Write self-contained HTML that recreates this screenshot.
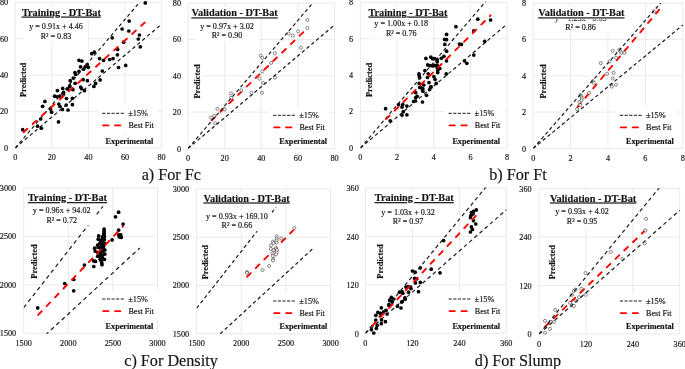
<!DOCTYPE html>
<html><head><meta charset="utf-8"><title>Predicted vs Experimental scatter plots</title>
<style>html,body{margin:0;padding:0;background:#fff}svg{display:block;will-change:transform}text{font-family:"Liberation Serif", serif;fill:#141414;stroke:#141414;stroke-width:0.16px}.b{font-weight:bold}</style></head>
<body>
<svg width="685" height="369" viewBox="0 0 685 369">
<rect width="685" height="369" fill="#fff"/>
<g>
<path d="M15.2 2.3V148M15.2 148H161.6M51.8 2.3V148M15.2 111.58H161.6M88.4 2.3V148M15.2 75.15H161.6M125 2.3V148M15.2 38.73H161.6M161.6 2.3V148M15.2 2.3H161.6" stroke="#e1e1e1" stroke-width="0.7" fill="none"/>
<text x="15.2" y="159.9" font-size="8.2" text-anchor="middle">0</text>
<text x="8.1" y="150.9" font-size="8.2" text-anchor="end">0</text>
<text x="51.8" y="159.9" font-size="8.2" text-anchor="middle">20</text>
<text x="8.1" y="114.48" font-size="8.2" text-anchor="end">20</text>
<text x="88.4" y="159.9" font-size="8.2" text-anchor="middle">40</text>
<text x="8.1" y="78.05" font-size="8.2" text-anchor="end">40</text>
<text x="125" y="159.9" font-size="8.2" text-anchor="middle">60</text>
<text x="8.1" y="41.63" font-size="8.2" text-anchor="end">60</text>
<text x="161.6" y="159.9" font-size="8.2" text-anchor="middle">80</text>
<text x="8.1" y="5.2" font-size="8.2" text-anchor="end">80</text>
<clipPath id="c1"><rect x="15.2" y="1.9" width="146.8" height="146.5"/></clipPath>
<g fill="#000"><circle cx="44.9" cy="101.4" r="1.85"/><circle cx="42.6" cy="106.3" r="1.85"/><circle cx="40.7" cy="119" r="1.85"/><circle cx="51.6" cy="112.2" r="1.85"/><circle cx="50.5" cy="109.1" r="1.85"/><circle cx="58.5" cy="121.9" r="1.85"/><circle cx="57.4" cy="90.6" r="1.85"/><circle cx="54.6" cy="96.2" r="1.85"/><circle cx="57.2" cy="96.8" r="1.85"/><circle cx="59.8" cy="96.2" r="1.85"/><circle cx="63.4" cy="94.2" r="1.85"/><circle cx="62.7" cy="88.4" r="1.85"/><circle cx="58.8" cy="104" r="1.85"/><circle cx="60" cy="106.5" r="1.85"/><circle cx="62.4" cy="109.4" r="1.85"/><circle cx="66.5" cy="98.5" r="1.85"/><circle cx="66.2" cy="105.1" r="1.85"/><circle cx="68" cy="110" r="1.85"/><circle cx="72.4" cy="98.3" r="1.85"/><circle cx="72.4" cy="104.7" r="1.85"/><circle cx="22.7" cy="129.7" r="1.85"/><circle cx="37.5" cy="126.2" r="1.85"/><circle cx="41.3" cy="128.2" r="1.85"/><circle cx="79" cy="60.3" r="1.85"/><circle cx="81.9" cy="61.1" r="1.85"/><circle cx="87.2" cy="64.5" r="1.85"/><circle cx="80.5" cy="66.8" r="1.85"/><circle cx="85.2" cy="66.8" r="1.85"/><circle cx="88.3" cy="67.3" r="1.85"/><circle cx="83.6" cy="69.2" r="1.85"/><circle cx="79" cy="71.4" r="1.85"/><circle cx="74.9" cy="72.5" r="1.85"/><circle cx="75.7" cy="74.5" r="1.85"/><circle cx="73.3" cy="78.1" r="1.85"/><circle cx="70.2" cy="80.7" r="1.85"/><circle cx="75.1" cy="83.3" r="1.85"/><circle cx="83.1" cy="79.7" r="1.85"/><circle cx="87.4" cy="80.7" r="1.85"/><circle cx="69.7" cy="85.9" r="1.85"/><circle cx="67.7" cy="89.1" r="1.85"/><circle cx="69.8" cy="86.6" r="1.85"/><circle cx="72.9" cy="89.7" r="1.85"/><circle cx="80.6" cy="87" r="1.85"/><circle cx="81.6" cy="88.7" r="1.85"/><circle cx="84.5" cy="90.7" r="1.85"/><circle cx="93.9" cy="86.4" r="1.85"/><circle cx="95.6" cy="83.4" r="1.85"/><circle cx="100.1" cy="79.9" r="1.85"/><circle cx="102.3" cy="71" r="1.85"/><circle cx="99.6" cy="58.6" r="1.85"/><circle cx="103.5" cy="60.3" r="1.85"/><circle cx="109.7" cy="59.5" r="1.85"/><circle cx="113.1" cy="58.6" r="1.85"/><circle cx="63.5" cy="92.3" r="1.85"/><circle cx="122.1" cy="29" r="1.85"/><circle cx="128.8" cy="31" r="1.85"/><circle cx="112.2" cy="37.8" r="1.85"/><circle cx="139.4" cy="35" r="1.85"/><circle cx="138.3" cy="39" r="1.85"/><circle cx="140.3" cy="46.8" r="1.85"/><circle cx="123.6" cy="42.2" r="1.85"/><circle cx="117.6" cy="49.4" r="1.85"/><circle cx="117.4" cy="54.8" r="1.85"/><circle cx="94.3" cy="52.2" r="1.85"/><circle cx="91.7" cy="53.7" r="1.85"/><circle cx="125.7" cy="65.4" r="1.85"/><circle cx="145.3" cy="2.9" r="1.85"/><circle cx="129.2" cy="21.1" r="1.85"/><circle cx="118.5" cy="67.5" r="1.85"/></g>
<g clip-path="url(#c1)" stroke="#1a1a1a" stroke-width="1.2" stroke-dasharray="3.6 2.8" fill="none"><path d="M15.2 148L161.6 -23.41"/><path d="M15.2 148L161.6 24.16"/></g>
<path d="M23.62 132.25L144.76 22.52" stroke="#f00" stroke-width="1.9" stroke-dasharray="5.1 7.1" stroke-linecap="round" fill="none"/>
<rect x="24.28" y="21.4" width="63.43" height="20" fill="#fff"/>
<rect x="20.4" y="6" width="82" height="13.2" fill="#fff"/>
<text x="56" y="29.2" font-size="8.1" text-anchor="middle">y = 0.91x + 4.46</text>
<text x="56" y="38.7" font-size="8.1" text-anchor="middle">R² = 0.83</text>
<rect x="16.2" y="60.9" width="12.4" height="38" fill="#fff"/>
<rect x="98.2" y="105.3" width="60" height="28" fill="#fff"/>
<rect x="103.6" y="135.5" width="52" height="11" fill="#fff"/>
<text class="b" x="61.4" y="15.6" font-size="10.3" text-anchor="middle" text-decoration="underline">Training - DT-Bat</text>
<text class="b" transform="translate(26.2 79.9) rotate(-90)" font-size="8.4" text-anchor="middle">Predicted</text>
<path d="M102.2 113.3h21.7" stroke="#1a1a1a" stroke-width="1" stroke-dasharray="3.2 1.43" fill="none"/>
<text x="128.2" y="116.2" font-size="8.3">±15%</text>
<path d="M103.1 125.4h5.4M115 125.4h5.4" stroke="#f00" stroke-width="1.8" stroke-linecap="round" fill="none"/>
<text x="128.4" y="128.1" font-size="8.1">Best Fit</text>
<text class="b" x="105.6" y="143.7" font-size="8.2">Experimental</text>
</g>
<g>
<path d="M188.1 3.3V148.4M188.1 148.4H334.5M224.7 3.3V148.4M188.1 112.12H334.5M261.3 3.3V148.4M188.1 75.85H334.5M297.9 3.3V148.4M188.1 39.58H334.5M334.5 3.3V148.4M188.1 3.3H334.5" stroke="#e1e1e1" stroke-width="0.7" fill="none"/>
<text x="188.1" y="160.9" font-size="8.2" text-anchor="middle">0</text>
<text x="181" y="151.6" font-size="8.2" text-anchor="end">0</text>
<text x="224.7" y="160.9" font-size="8.2" text-anchor="middle">20</text>
<text x="181" y="115.2" font-size="8.2" text-anchor="end">20</text>
<text x="261.3" y="160.9" font-size="8.2" text-anchor="middle">40</text>
<text x="181" y="78.8" font-size="8.2" text-anchor="end">40</text>
<text x="297.9" y="160.9" font-size="8.2" text-anchor="middle">60</text>
<text x="181" y="42.4" font-size="8.2" text-anchor="end">60</text>
<text x="334.5" y="160.9" font-size="8.2" text-anchor="middle">80</text>
<text x="181" y="6" font-size="8.2" text-anchor="end">80</text>
<clipPath id="c2"><rect x="188.1" y="2.9" width="146.8" height="145.9"/></clipPath>
<path d="M211.71 120.23L303.39 32.08" stroke="#f00" stroke-width="1.9" stroke-dasharray="5.1 7.1" stroke-linecap="round" fill="none"/>
<g fill="#fff" fill-opacity="0.9" stroke="#2a2a2a" stroke-width="0.55"><circle cx="210.9" cy="117.6" r="1.55"/><circle cx="214.2" cy="115.9" r="1.55"/><circle cx="215.3" cy="123.2" r="1.55"/><circle cx="217.4" cy="109" r="1.55"/><circle cx="224.7" cy="109.4" r="1.55"/><circle cx="231" cy="93.5" r="1.55"/><circle cx="231" cy="97.9" r="1.55"/><circle cx="241.3" cy="90.3" r="1.55"/><circle cx="251.5" cy="92.7" r="1.55"/><circle cx="262" cy="92.7" r="1.55"/><circle cx="263" cy="83" r="1.55"/><circle cx="259.5" cy="78.7" r="1.55"/><circle cx="262.2" cy="71.5" r="1.55"/><circle cx="274.9" cy="77.6" r="1.55"/><circle cx="307.4" cy="20.1" r="1.55"/><circle cx="307.4" cy="27.9" r="1.55"/><circle cx="298.1" cy="31.4" r="1.55"/><circle cx="292.8" cy="35.5" r="1.55"/><circle cx="288.7" cy="33.5" r="1.55"/><circle cx="300.9" cy="47.7" r="1.55"/><circle cx="274.9" cy="53.3" r="1.55"/><circle cx="260.7" cy="55.7" r="1.55"/><circle cx="262.3" cy="58" r="1.55"/><circle cx="271.1" cy="62.9" r="1.55"/></g>
<g clip-path="url(#c2)" stroke="#1a1a1a" stroke-width="1.2" stroke-dasharray="3.5 2.7" fill="none"><path d="M188.1 148.4L334.5 -22.31"/><path d="M188.1 148.4L334.5 25.07"/></g>
<rect x="195.28" y="21" width="63.43" height="20" fill="#fff"/>
<rect x="190.7" y="6.8" width="88" height="13.2" fill="#fff"/>
<text x="227" y="28.8" font-size="8.1" text-anchor="middle">y = 0.97x + 3.02</text>
<text x="227" y="38.2" font-size="8.1" text-anchor="middle">R² = 0.90</text>
<rect x="189.5" y="62.4" width="12.4" height="38" fill="#fff"/>
<rect x="269.2" y="107.3" width="60" height="28" fill="#fff"/>
<rect x="277.3" y="135.5" width="52" height="11" fill="#fff"/>
<text class="b" x="234.7" y="16.4" font-size="10.3" text-anchor="middle" text-decoration="underline">Validation - DT-Bat</text>
<text class="b" transform="translate(199.5 81.4) rotate(-90)" font-size="8.4" text-anchor="middle">Predicted</text>
<path d="M273.2 115.3h21.7" stroke="#1a1a1a" stroke-width="1" stroke-dasharray="3.2 1.43" fill="none"/>
<text x="299.2" y="118.2" font-size="8.3">±15%</text>
<path d="M274.1 127.4h5.4M286 127.4h5.4" stroke="#f00" stroke-width="1.8" stroke-linecap="round" fill="none"/>
<text x="299.4" y="130.1" font-size="8.1">Best Fit</text>
<text class="b" x="279.3" y="143.7" font-size="8.2">Experimental</text>
</g>
<g>
<path d="M360.4 2.2V148M360.4 148H507.1M397.07 2.2V148M360.4 111.55H507.1M433.75 2.2V148M360.4 75.1H507.1M470.43 2.2V148M360.4 38.65H507.1M507.1 2.2V148M360.4 2.2H507.1" stroke="#e1e1e1" stroke-width="0.7" fill="none"/>
<text x="360.4" y="159.9" font-size="8.2" text-anchor="middle">0</text>
<text x="353.2" y="150.9" font-size="8.2" text-anchor="end">0</text>
<text x="397.07" y="159.9" font-size="8.2" text-anchor="middle">2</text>
<text x="353.2" y="114.45" font-size="8.2" text-anchor="end">2</text>
<text x="433.75" y="159.9" font-size="8.2" text-anchor="middle">4</text>
<text x="353.2" y="78" font-size="8.2" text-anchor="end">4</text>
<text x="470.43" y="159.9" font-size="8.2" text-anchor="middle">6</text>
<text x="353.2" y="41.55" font-size="8.2" text-anchor="end">6</text>
<text x="507.1" y="159.9" font-size="8.2" text-anchor="middle">8</text>
<text x="353.2" y="5.1" font-size="8.2" text-anchor="end">8</text>
<clipPath id="c3"><rect x="360.4" y="1.8" width="147.1" height="146.6"/></clipPath>
<g fill="#000"><circle cx="385.6" cy="108.7" r="1.85"/><circle cx="390.2" cy="120.8" r="1.85"/><circle cx="398.5" cy="104.6" r="1.85"/><circle cx="402.8" cy="104.6" r="1.85"/><circle cx="402" cy="107.1" r="1.85"/><circle cx="406.9" cy="106.1" r="1.85"/><circle cx="403.3" cy="111.7" r="1.85"/><circle cx="402" cy="115.1" r="1.85"/><circle cx="406.9" cy="114.8" r="1.85"/><circle cx="413.6" cy="101.5" r="1.85"/><circle cx="415.5" cy="100.9" r="1.85"/><circle cx="415.7" cy="97.6" r="1.85"/><circle cx="417.2" cy="96.3" r="1.85"/><circle cx="415.7" cy="92.7" r="1.85"/><circle cx="422.5" cy="102" r="1.85"/><circle cx="426.5" cy="95.3" r="1.85"/><circle cx="422.4" cy="89.6" r="1.85"/><circle cx="422.9" cy="91.2" r="1.85"/><circle cx="420.3" cy="87.3" r="1.85"/><circle cx="429.6" cy="89.6" r="1.85"/><circle cx="431.1" cy="86.9" r="1.85"/><circle cx="425.9" cy="58.4" r="1.85"/><circle cx="430.8" cy="57.1" r="1.85"/><circle cx="432.6" cy="58.7" r="1.85"/><circle cx="434.6" cy="58.7" r="1.85"/><circle cx="437.2" cy="59.7" r="1.85"/><circle cx="437.2" cy="61.8" r="1.85"/><circle cx="441.3" cy="58.3" r="1.85"/><circle cx="443.9" cy="56.3" r="1.85"/><circle cx="446.5" cy="60.8" r="1.85"/><circle cx="427.7" cy="64.9" r="1.85"/><circle cx="430" cy="65.6" r="1.85"/><circle cx="432.6" cy="65.9" r="1.85"/><circle cx="434.6" cy="65.4" r="1.85"/><circle cx="437.2" cy="65.4" r="1.85"/><circle cx="437.2" cy="67.4" r="1.85"/><circle cx="439.8" cy="68.5" r="1.85"/><circle cx="437.7" cy="70.5" r="1.85"/><circle cx="437.7" cy="72.6" r="1.85"/><circle cx="424.9" cy="70.5" r="1.85"/><circle cx="419" cy="73.8" r="1.85"/><circle cx="419.2" cy="75.9" r="1.85"/><circle cx="419.7" cy="77.7" r="1.85"/><circle cx="428.2" cy="73.8" r="1.85"/><circle cx="427.4" cy="77.5" r="1.85"/><circle cx="433.9" cy="76.7" r="1.85"/><circle cx="435" cy="79.3" r="1.85"/><circle cx="436.2" cy="83.4" r="1.85"/><circle cx="446.2" cy="73.9" r="1.85"/><circle cx="429" cy="82.6" r="1.85"/><circle cx="419.2" cy="83.4" r="1.85"/><circle cx="423.8" cy="85" r="1.85"/><circle cx="419.7" cy="87.5" r="1.85"/><circle cx="422.8" cy="88.6" r="1.85"/><circle cx="430.5" cy="87" r="1.85"/><circle cx="464.4" cy="60.8" r="1.85"/><circle cx="455.9" cy="26.7" r="1.85"/><circle cx="446.6" cy="34.4" r="1.85"/><circle cx="444.6" cy="39.4" r="1.85"/><circle cx="446.6" cy="39.7" r="1.85"/><circle cx="444.8" cy="44.4" r="1.85"/><circle cx="446.6" cy="51.2" r="1.85"/><circle cx="459.5" cy="44.1" r="1.85"/><circle cx="461.4" cy="44.4" r="1.85"/><circle cx="473.8" cy="30.8" r="1.85"/><circle cx="477.8" cy="19.2" r="1.85"/><circle cx="490.6" cy="20" r="1.85"/><circle cx="484.7" cy="41.3" r="1.85"/><circle cx="473.8" cy="55.1" r="1.85"/><circle cx="466.8" cy="63.3" r="1.85"/></g>
<g clip-path="url(#c3)" stroke="#1a1a1a" stroke-width="1.2" stroke-dasharray="3.6 2.8" fill="none"><path d="M360.4 148L507.1 -23.53"/><path d="M360.4 148L507.1 24.07"/></g>
<path d="M386.07 119.2L490.6 15.32" stroke="#f00" stroke-width="1.9" stroke-dasharray="5.1 7.1" stroke-linecap="round" fill="none"/>
<rect x="369.48" y="18.5" width="63.43" height="20" fill="#fff"/>
<rect x="366.9" y="6" width="82" height="13.2" fill="#fff"/>
<text x="401.2" y="26.3" font-size="8.1" text-anchor="middle">y = 1.00x + 0.18</text>
<text x="401.2" y="35.5" font-size="8.1" text-anchor="middle">R² = 0.76</text>
<rect x="362.4" y="60.9" width="12.4" height="38" fill="#fff"/>
<rect x="444.6" y="105.3" width="60" height="28" fill="#fff"/>
<rect x="450.4" y="135.5" width="52" height="11" fill="#fff"/>
<text class="b" x="407.9" y="15.6" font-size="10.3" text-anchor="middle" text-decoration="underline">Training - DT-Bat</text>
<text class="b" transform="translate(372.4 79.9) rotate(-90)" font-size="8.4" text-anchor="middle">Predicted</text>
<path d="M448.6 113.3h21.7" stroke="#1a1a1a" stroke-width="1" stroke-dasharray="3.2 1.43" fill="none"/>
<text x="474.6" y="116.2" font-size="8.3">±15%</text>
<path d="M449.5 125.4h5.4M461.4 125.4h5.4" stroke="#f00" stroke-width="1.8" stroke-linecap="round" fill="none"/>
<text x="474.8" y="128.1" font-size="8.1">Best Fit</text>
<text class="b" x="452.4" y="143.7" font-size="8.2">Experimental</text>
</g>
<g>
<path d="M533.2 3.3V148.4M533.2 148.4H682.8M570.6 3.3V148.4M533.2 112.12H682.8M608 3.3V148.4M533.2 75.85H682.8M645.4 3.3V148.4M533.2 39.58H682.8M682.8 3.3V148.4M533.2 3.3H682.8" stroke="#e1e1e1" stroke-width="0.7" fill="none"/>
<text x="533.2" y="160.9" font-size="8.2" text-anchor="middle">0</text>
<text x="526.2" y="151.8" font-size="8.2" text-anchor="end">0</text>
<text x="570.6" y="160.9" font-size="8.2" text-anchor="middle">2</text>
<text x="526.2" y="115.35" font-size="8.2" text-anchor="end">2</text>
<text x="608" y="160.9" font-size="8.2" text-anchor="middle">4</text>
<text x="526.2" y="78.9" font-size="8.2" text-anchor="end">4</text>
<text x="645.4" y="160.9" font-size="8.2" text-anchor="middle">6</text>
<text x="526.2" y="42.45" font-size="8.2" text-anchor="end">6</text>
<text x="682.8" y="160.9" font-size="8.2" text-anchor="middle">8</text>
<text x="526.2" y="6" font-size="8.2" text-anchor="end">8</text>
<clipPath id="c4"><rect x="533.2" y="2.9" width="150" height="145.9"/></clipPath>
<path d="M577.52 107.05L659.24 9.65" stroke="#f00" stroke-width="1.9" stroke-dasharray="5.1 7.1" stroke-linecap="round" fill="none"/>
<g fill="#fff" fill-opacity="0.9" stroke="#2a2a2a" stroke-width="0.55"><circle cx="600.8" cy="63.1" r="1.55"/><circle cx="609.6" cy="61.5" r="1.55"/><circle cx="607" cy="73.7" r="1.55"/><circle cx="613.6" cy="72.9" r="1.55"/><circle cx="612.7" cy="78.5" r="1.55"/><circle cx="611.3" cy="85" r="1.55"/><circle cx="611.9" cy="86.6" r="1.55"/><circle cx="616" cy="84.7" r="1.55"/><circle cx="592.8" cy="81.1" r="1.55"/><circle cx="593.8" cy="82.9" r="1.55"/><circle cx="589.1" cy="92.9" r="1.55"/><circle cx="580.4" cy="95" r="1.55"/><circle cx="581.5" cy="96.6" r="1.55"/><circle cx="581.8" cy="98.2" r="1.55"/><circle cx="581.6" cy="100.4" r="1.55"/><circle cx="579.5" cy="102" r="1.55"/><circle cx="580.2" cy="105.1" r="1.55"/><circle cx="577.1" cy="109.2" r="1.55"/><circle cx="612.7" cy="50.8" r="1.55"/><circle cx="619.3" cy="49.8" r="1.55"/><circle cx="620.5" cy="51.3" r="1.55"/><circle cx="621.5" cy="52.9" r="1.55"/><circle cx="624.4" cy="52.9" r="1.55"/><circle cx="616.1" cy="57.8" r="1.55"/><circle cx="653.9" cy="11.4" r="1.55"/></g>
<g clip-path="url(#c4)" stroke="#1a1a1a" stroke-width="1.2" stroke-dasharray="3.5 2.7" fill="none"><path d="M533.2 148.4L682.8 -22.31"/><path d="M533.2 148.4L682.8 25.07"/></g>
<text x="580.6" y="20.75" font-size="8.1" text-anchor="middle">y = 1.23x - 0.63</text>
<rect x="537.4" y="6.8" width="88" height="12.65" fill="#fff"/>
<rect x="549.6" y="22.6" width="62" height="9.6" fill="#fff"/>
<text x="580.6" y="29.6" font-size="8.1" text-anchor="middle">R² = 0.86</text>
<rect x="536.2" y="62.4" width="12.4" height="38" fill="#fff"/>
<rect x="615.9" y="107.3" width="60" height="28" fill="#fff"/>
<rect x="624" y="135.5" width="52" height="11" fill="#fff"/>
<text class="b" x="581.4" y="16.4" font-size="10.3" text-anchor="middle" text-decoration="underline">Validation - DT-Bat</text>
<text class="b" transform="translate(546.2 81.4) rotate(-90)" font-size="8.4" text-anchor="middle">Predicted</text>
<path d="M619.9 115.3h21.7" stroke="#1a1a1a" stroke-width="1" stroke-dasharray="3.2 1.43" fill="none"/>
<text x="645.9" y="118.2" font-size="8.3">±15%</text>
<path d="M620.8 127.4h5.4M632.7 127.4h5.4" stroke="#f00" stroke-width="1.8" stroke-linecap="round" fill="none"/>
<text x="646.1" y="130.1" font-size="8.1">Best Fit</text>
<text class="b" x="626" y="143.7" font-size="8.2">Experimental</text>
</g>
<g>
<path d="M23.7 188V333.3M23.7 333.3H157.5M68.3 188V333.3M23.7 284.87H157.5M112.9 188V333.3M23.7 236.43H157.5M157.5 188V333.3M23.7 188H157.5" stroke="#e1e1e1" stroke-width="0.7" fill="none"/>
<text x="23.7" y="345.8" font-size="8.2" text-anchor="middle">1500</text>
<text x="16.2" y="336.2" font-size="8.2" text-anchor="end">1500</text>
<text x="68.3" y="345.8" font-size="8.2" text-anchor="middle">2000</text>
<text x="16.2" y="287.77" font-size="8.2" text-anchor="end">2000</text>
<text x="112.9" y="345.8" font-size="8.2" text-anchor="middle">2500</text>
<text x="16.2" y="239.33" font-size="8.2" text-anchor="end">2500</text>
<text x="157.5" y="345.8" font-size="8.2" text-anchor="middle">3000</text>
<text x="16.2" y="190.9" font-size="8.2" text-anchor="end">3000</text>
<clipPath id="c5"><rect x="23.7" y="187.6" width="134.2" height="146.1"/></clipPath>
<g fill="#000"><circle cx="118.6" cy="212.2" r="1.85"/><circle cx="115.5" cy="216.8" r="1.85"/><circle cx="123.1" cy="224.1" r="1.85"/><circle cx="118.6" cy="230.2" r="1.85"/><circle cx="118.8" cy="234.9" r="1.85"/><circle cx="120.8" cy="234.9" r="1.85"/><circle cx="119.3" cy="236.9" r="1.85"/><circle cx="121.3" cy="237.4" r="1.85"/><circle cx="112.1" cy="239.9" r="1.85"/><circle cx="104.1" cy="229.2" r="1.85"/><circle cx="104.1" cy="231.3" r="1.85"/><circle cx="104.1" cy="233.3" r="1.85"/><circle cx="104.1" cy="235.4" r="1.85"/><circle cx="102.8" cy="236.4" r="1.85"/><circle cx="98.7" cy="235.9" r="1.85"/><circle cx="98.2" cy="239.2" r="1.85"/><circle cx="103.8" cy="234.1" r="1.85"/><circle cx="104.4" cy="236.6" r="1.85"/><circle cx="102.3" cy="238.2" r="1.85"/><circle cx="104.4" cy="239.7" r="1.85"/><circle cx="100.7" cy="240.8" r="1.85"/><circle cx="102.8" cy="241.8" r="1.85"/><circle cx="99.7" cy="243.3" r="1.85"/><circle cx="104.4" cy="243.3" r="1.85"/><circle cx="97.7" cy="245.2" r="1.85"/><circle cx="101.8" cy="244.9" r="1.85"/><circle cx="103.8" cy="245.9" r="1.85"/><circle cx="94.6" cy="248.2" r="1.85"/><circle cx="98.2" cy="247.4" r="1.85"/><circle cx="100.7" cy="247.4" r="1.85"/><circle cx="103.3" cy="248.5" r="1.85"/><circle cx="104.9" cy="250" r="1.85"/><circle cx="95.1" cy="251.1" r="1.85"/><circle cx="100.7" cy="250.5" r="1.85"/><circle cx="102.8" cy="251.6" r="1.85"/><circle cx="97.7" cy="252.6" r="1.85"/><circle cx="100.2" cy="253.6" r="1.85"/><circle cx="104.9" cy="254.1" r="1.85"/><circle cx="102.3" cy="255.2" r="1.85"/><circle cx="97.7" cy="256.2" r="1.85"/><circle cx="100.2" cy="256.7" r="1.85"/><circle cx="102.3" cy="257.7" r="1.85"/><circle cx="104.4" cy="259.3" r="1.85"/><circle cx="100.2" cy="259.3" r="1.85"/><circle cx="101.3" cy="261.4" r="1.85"/><circle cx="101.8" cy="262.9" r="1.85"/><circle cx="102" cy="264.7" r="1.85"/><circle cx="93.5" cy="260.8" r="1.85"/><circle cx="95.4" cy="261.4" r="1.85"/><circle cx="93.8" cy="266.5" r="1.85"/><circle cx="84.4" cy="265" r="1.85"/><circle cx="64.7" cy="283.6" r="1.85"/><circle cx="73.7" cy="279.5" r="1.85"/><circle cx="73.7" cy="290.8" r="1.85"/><circle cx="37.7" cy="307.9" r="1.85"/></g>
<g clip-path="url(#c5)" stroke="#1a1a1a" stroke-width="1.2" stroke-dasharray="4 3.4" fill="none"><path d="M23.7 307.66L102.91 206.46"/><path d="M23.7 355.1L139.66 248.06"/></g>
<path d="M38.15 314.94L122.89 226.6" stroke="#f00" stroke-width="1.9" stroke-dasharray="5.1 7.1" stroke-linecap="round" fill="none"/>
<rect x="28.28" y="205.4" width="66.83" height="20" fill="#fff"/>
<rect x="26.5" y="191.5" width="82" height="13.2" fill="#fff"/>
<text x="61.7" y="213.2" font-size="8.1" text-anchor="middle">y = 0.96x + 94.02</text>
<text x="61.7" y="222.5" font-size="8.1" text-anchor="middle">R² = 0.72</text>
<rect x="26.8" y="242.5" width="12.4" height="38" fill="#fff"/>
<rect x="98.2" y="291" width="60" height="28" fill="#fff"/>
<rect x="103.6" y="320.9" width="52" height="11" fill="#fff"/>
<text class="b" x="67.5" y="201.1" font-size="10.3" text-anchor="middle" text-decoration="underline">Training - DT-Bat</text>
<text class="b" transform="translate(36.8 261.5) rotate(-90)" font-size="8.4" text-anchor="middle">Predicted</text>
<path d="M102.2 299h21.7" stroke="#1a1a1a" stroke-width="1" stroke-dasharray="3.2 1.43" fill="none"/>
<text x="128.2" y="301.9" font-size="8.3">±15%</text>
<path d="M103.1 311.1h5.4M115 311.1h5.4" stroke="#f00" stroke-width="1.8" stroke-linecap="round" fill="none"/>
<text x="128.4" y="313.8" font-size="8.1">Best Fit</text>
<text class="b" x="105.6" y="329.1" font-size="8.2">Experimental</text>
</g>
<g>
<path d="M196.6 188.8V333.8M196.6 333.8H330.6M241.27 188.8V333.8M196.6 285.47H330.6M285.93 188.8V333.8M196.6 237.13H330.6M330.6 188.8V333.8M196.6 188.8H330.6" stroke="#e1e1e1" stroke-width="0.7" fill="none"/>
<text x="196.6" y="346.3" font-size="8.2" text-anchor="middle">1500</text>
<text x="189.1" y="336.7" font-size="8.2" text-anchor="end">1500</text>
<text x="241.27" y="346.3" font-size="8.2" text-anchor="middle">2000</text>
<text x="189.1" y="288.37" font-size="8.2" text-anchor="end">2000</text>
<text x="285.93" y="346.3" font-size="8.2" text-anchor="middle">2500</text>
<text x="189.1" y="240.03" font-size="8.2" text-anchor="end">2500</text>
<text x="330.6" y="346.3" font-size="8.2" text-anchor="middle">3000</text>
<text x="189.1" y="191.7" font-size="8.2" text-anchor="end">3000</text>
<clipPath id="c6"><rect x="196.6" y="188.4" width="134.4" height="145.8"/></clipPath>
<path d="M247.16 276.72L293.44 230.15" stroke="#f00" stroke-width="1.9" stroke-dasharray="5.1 7.1" stroke-linecap="round" fill="none"/>
<g fill="#fff" fill-opacity="0.9" stroke="#2a2a2a" stroke-width="0.55"><circle cx="294.3" cy="228" r="1.55"/><circle cx="281.2" cy="238.5" r="1.55"/><circle cx="276.8" cy="236.4" r="1.55"/><circle cx="276.8" cy="238.5" r="1.55"/><circle cx="276.6" cy="240.5" r="1.55"/><circle cx="273" cy="241.6" r="1.55"/><circle cx="276.6" cy="242.6" r="1.55"/><circle cx="273.5" cy="243.1" r="1.55"/><circle cx="270.9" cy="245.5" r="1.55"/><circle cx="270.9" cy="249" r="1.55"/><circle cx="276" cy="248.3" r="1.55"/><circle cx="276.9" cy="250" r="1.55"/><circle cx="273.5" cy="250.3" r="1.55"/><circle cx="276.6" cy="252.4" r="1.55"/><circle cx="272.4" cy="253.4" r="1.55"/><circle cx="276" cy="254.4" r="1.55"/><circle cx="273" cy="256" r="1.55"/><circle cx="273" cy="259.3" r="1.55"/><circle cx="273" cy="260.5" r="1.55"/><circle cx="247" cy="272.1" r="1.55"/><circle cx="247" cy="272.9" r="1.55"/><circle cx="262.6" cy="270.1" r="1.55"/><circle cx="269.1" cy="266" r="1.55"/></g>
<g clip-path="url(#c6)" stroke="#1a1a1a" stroke-width="1.2" stroke-dasharray="3.6 2.8" fill="none"><path d="M196.6 308.21L275.93 207.22"/><path d="M196.6 355.55L312.73 248.73"/></g>
<rect x="201.78" y="211.2" width="70.24" height="20" fill="#fff"/>
<rect x="202.7" y="191.9" width="88" height="13.2" fill="#fff"/>
<text x="236.9" y="219" font-size="8.1" text-anchor="middle">y = 0.93x + 169.10</text>
<text x="236.9" y="228.4" font-size="8.1" text-anchor="middle">R² = 0.66</text>
<rect x="197.9" y="243.2" width="12.4" height="38" fill="#fff"/>
<rect x="269.2" y="293" width="60" height="28" fill="#fff"/>
<rect x="277.5" y="320.9" width="52" height="11" fill="#fff"/>
<text class="b" x="246.7" y="201.5" font-size="10.3" text-anchor="middle" text-decoration="underline">Validation - DT-Bat</text>
<text class="b" transform="translate(207.9 262.2) rotate(-90)" font-size="8.4" text-anchor="middle">Predicted</text>
<path d="M273.2 301h21.7" stroke="#1a1a1a" stroke-width="1" stroke-dasharray="3.2 1.43" fill="none"/>
<text x="299.2" y="303.9" font-size="8.3">±15%</text>
<path d="M274.1 313.1h5.4M286 313.1h5.4" stroke="#f00" stroke-width="1.8" stroke-linecap="round" fill="none"/>
<text x="299.4" y="315.8" font-size="8.1">Best Fit</text>
<text class="b" x="279.5" y="329.1" font-size="8.2">Experimental</text>
</g>
<g>
<path d="M365.4 188V333.3M365.4 333.3H506.3M412.37 188V333.3M365.4 284.87H506.3M459.33 188V333.3M365.4 236.43H506.3M506.3 188V333.3M365.4 188H506.3" stroke="#e1e1e1" stroke-width="0.7" fill="none"/>
<text x="365.4" y="345.8" font-size="8.2" text-anchor="middle">0</text>
<text x="358.8" y="336.6" font-size="8.2" text-anchor="end">0</text>
<text x="412.37" y="345.8" font-size="8.2" text-anchor="middle">120</text>
<text x="358.8" y="288.17" font-size="8.2" text-anchor="end">120</text>
<text x="459.33" y="345.8" font-size="8.2" text-anchor="middle">240</text>
<text x="358.8" y="239.73" font-size="8.2" text-anchor="end">240</text>
<text x="506.3" y="345.8" font-size="8.2" text-anchor="middle">360</text>
<text x="358.8" y="191.3" font-size="8.2" text-anchor="end">360</text>
<clipPath id="c7"><rect x="365.4" y="187.6" width="141.3" height="146.1"/></clipPath>
<g fill="#000"><circle cx="373.8" cy="333" r="1.85"/><circle cx="371.4" cy="329.7" r="1.85"/><circle cx="376.3" cy="328.4" r="1.85"/><circle cx="377.2" cy="325.3" r="1.85"/><circle cx="375.8" cy="320.1" r="1.85"/><circle cx="381.5" cy="319.9" r="1.85"/><circle cx="381.3" cy="323.7" r="1.85"/><circle cx="385.4" cy="321.7" r="1.85"/><circle cx="375.8" cy="315.3" r="1.85"/><circle cx="377.9" cy="312.4" r="1.85"/><circle cx="380.4" cy="313.4" r="1.85"/><circle cx="381.3" cy="307.8" r="1.85"/><circle cx="383.5" cy="311.9" r="1.85"/><circle cx="386.1" cy="310.4" r="1.85"/><circle cx="387.1" cy="314" r="1.85"/><circle cx="389.2" cy="305.2" r="1.85"/><circle cx="389.7" cy="300.6" r="1.85"/><circle cx="392.3" cy="302.1" r="1.85"/><circle cx="393.8" cy="299" r="1.85"/><circle cx="397.4" cy="306.2" r="1.85"/><circle cx="401" cy="308" r="1.85"/><circle cx="401.6" cy="302.1" r="1.85"/><circle cx="405.2" cy="299.2" r="1.85"/><circle cx="412.4" cy="271" r="1.85"/><circle cx="415.2" cy="272.2" r="1.85"/><circle cx="420.3" cy="267.8" r="1.85"/><circle cx="431.2" cy="269.2" r="1.85"/><circle cx="440" cy="272.8" r="1.85"/><circle cx="414.6" cy="278.3" r="1.85"/><circle cx="416.7" cy="278.8" r="1.85"/><circle cx="415.4" cy="282.9" r="1.85"/><circle cx="420.3" cy="282.4" r="1.85"/><circle cx="405.9" cy="287.1" r="1.85"/><circle cx="408" cy="286.5" r="1.85"/><circle cx="410.5" cy="287.1" r="1.85"/><circle cx="411" cy="288.6" r="1.85"/><circle cx="399.5" cy="292.2" r="1.85"/><circle cx="402" cy="291.7" r="1.85"/><circle cx="402.8" cy="293.2" r="1.85"/><circle cx="408.5" cy="292.2" r="1.85"/><circle cx="418.5" cy="291.7" r="1.85"/><circle cx="391.3" cy="297.4" r="1.85"/><circle cx="389.9" cy="299.9" r="1.85"/><circle cx="392" cy="301.5" r="1.85"/><circle cx="404.9" cy="297.9" r="1.85"/><circle cx="402.3" cy="301.5" r="1.85"/><circle cx="388.9" cy="304.6" r="1.85"/><circle cx="443.6" cy="240.6" r="1.85"/><circle cx="476.3" cy="209.9" r="1.85"/><circle cx="473.5" cy="211.4" r="1.85"/><circle cx="471.4" cy="212.5" r="1.85"/><circle cx="473" cy="214" r="1.85"/><circle cx="470.9" cy="215.6" r="1.85"/><circle cx="470.4" cy="217.6" r="1.85"/><circle cx="473.5" cy="220.7" r="1.85"/><circle cx="475.8" cy="224" r="1.85"/><circle cx="471.4" cy="226.9" r="1.85"/><circle cx="472.4" cy="229.5" r="1.85"/><circle cx="470.4" cy="232" r="1.85"/></g>
<g clip-path="url(#c7)" stroke="#1a1a1a" stroke-width="1.2" stroke-dasharray="3.8 3.1" fill="none"><path d="M365.4 333.3L506.3 162.36"/><path d="M365.4 333.3L506.3 209.8"/></g>
<path d="M372.25 325.89L475.77 215.93" stroke="#f00" stroke-width="1.9" stroke-dasharray="5.1 7.1" stroke-linecap="round" fill="none"/>
<rect x="376.38" y="206.8" width="63.43" height="20" fill="#fff"/>
<rect x="373.3" y="191.5" width="82" height="13.2" fill="#fff"/>
<text x="408.1" y="214.6" font-size="8.1" text-anchor="middle">y = 1.03x + 0.32</text>
<text x="408.1" y="224.1" font-size="8.1" text-anchor="middle">R² = 0.97</text>
<rect x="373.4" y="242.5" width="12.4" height="38" fill="#fff"/>
<rect x="444.6" y="291" width="60" height="28" fill="#fff"/>
<rect x="450.4" y="320.9" width="52" height="11" fill="#fff"/>
<text class="b" x="414.3" y="201.1" font-size="10.3" text-anchor="middle" text-decoration="underline">Training - DT-Bat</text>
<text class="b" transform="translate(383.4 261.5) rotate(-90)" font-size="8.4" text-anchor="middle">Predicted</text>
<path d="M448.6 299h21.7" stroke="#1a1a1a" stroke-width="1" stroke-dasharray="3.2 1.43" fill="none"/>
<text x="474.6" y="301.9" font-size="8.3">±15%</text>
<path d="M449.5 311.1h5.4M461.4 311.1h5.4" stroke="#f00" stroke-width="1.8" stroke-linecap="round" fill="none"/>
<text x="474.8" y="313.8" font-size="8.1">Best Fit</text>
<text class="b" x="452.4" y="329.1" font-size="8.2">Experimental</text>
</g>
<g>
<path d="M539.1 188.6V334M539.1 334H679.7M585.97 188.6V334M539.1 285.53H679.7M632.83 188.6V334M539.1 237.07H679.7M679.7 188.6V334M539.1 188.6H679.7" stroke="#e1e1e1" stroke-width="0.7" fill="none"/>
<text x="539.1" y="346.5" font-size="8.2" text-anchor="middle">0</text>
<text x="531.6" y="337.2" font-size="8.2" text-anchor="end">0</text>
<text x="585.97" y="346.5" font-size="8.2" text-anchor="middle">120</text>
<text x="531.6" y="288.73" font-size="8.2" text-anchor="end">120</text>
<text x="632.83" y="346.5" font-size="8.2" text-anchor="middle">240</text>
<text x="531.6" y="240.27" font-size="8.2" text-anchor="end">240</text>
<text x="679.7" y="346.5" font-size="8.2" text-anchor="middle">360</text>
<text x="531.6" y="191.8" font-size="8.2" text-anchor="end">360</text>
<clipPath id="c8"><rect x="539.1" y="188.2" width="141" height="146.2"/></clipPath>
<path d="M545.15 326.57L645.92 229.64" stroke="#f00" stroke-width="1.9" stroke-dasharray="5.1 7.1" stroke-linecap="round" fill="none"/>
<g fill="#fff" fill-opacity="0.9" stroke="#2a2a2a" stroke-width="0.55"><circle cx="545" cy="332.7" r="1.55"/><circle cx="550" cy="328.9" r="1.55"/><circle cx="545" cy="320.9" r="1.55"/><circle cx="550.8" cy="321.8" r="1.55"/><circle cx="553.9" cy="321.8" r="1.55"/><circle cx="555.2" cy="309.9" r="1.55"/><circle cx="570.1" cy="302.8" r="1.55"/><circle cx="572" cy="305.3" r="1.55"/><circle cx="573.9" cy="305.9" r="1.55"/><circle cx="576.1" cy="301" r="1.55"/><circle cx="572" cy="294.7" r="1.55"/><circle cx="579.1" cy="297.2" r="1.55"/><circle cx="585.6" cy="294.7" r="1.55"/><circle cx="573.9" cy="290.8" r="1.55"/><circle cx="575.6" cy="289.6" r="1.55"/><circle cx="610.7" cy="251.9" r="1.55"/><circle cx="622.3" cy="259" r="1.55"/><circle cx="585.5" cy="273" r="1.55"/><circle cx="581.4" cy="288.6" r="1.55"/><circle cx="646.1" cy="218.9" r="1.55"/><circle cx="645.5" cy="230.5" r="1.55"/><circle cx="644.6" cy="243.4" r="1.55"/></g>
<g clip-path="url(#c8)" stroke="#1a1a1a" stroke-width="1.2" stroke-dasharray="3.8 3.1" fill="none"><path d="M539.1 334L679.7 162.94"/><path d="M539.1 334L679.7 210.41"/></g>
<rect x="550.38" y="206.4" width="63.43" height="20" fill="#fff"/>
<rect x="549.2" y="191.9" width="88" height="13.2" fill="#fff"/>
<text x="582.1" y="214.2" font-size="8.1" text-anchor="middle">y = 0.93x + 4.02</text>
<text x="582.1" y="223.7" font-size="8.1" text-anchor="middle">R² = 0.95</text>
<rect x="544.6" y="243.2" width="12.4" height="38" fill="#fff"/>
<rect x="615.9" y="293" width="60" height="28" fill="#fff"/>
<rect x="624" y="320.9" width="52" height="11" fill="#fff"/>
<text class="b" x="593.2" y="201.5" font-size="10.3" text-anchor="middle" text-decoration="underline">Validation - DT-Bat</text>
<text class="b" transform="translate(554.6 262.2) rotate(-90)" font-size="8.4" text-anchor="middle">Predicted</text>
<path d="M619.9 301h21.7" stroke="#1a1a1a" stroke-width="1" stroke-dasharray="3.2 1.43" fill="none"/>
<text x="645.9" y="303.9" font-size="8.3">±15%</text>
<path d="M620.8 313.1h5.4M632.7 313.1h5.4" stroke="#f00" stroke-width="1.8" stroke-linecap="round" fill="none"/>
<text x="646.1" y="315.8" font-size="8.1">Best Fit</text>
<text class="b" x="626" y="329.1" font-size="8.2">Experimental</text>
</g>
<text x="171.3" y="179.5" font-size="16.2" text-anchor="middle">a) For Fc</text>
<text x="518" y="179.5" font-size="16.2" text-anchor="middle">b) For Ft</text>
<text x="171" y="365.5" font-size="16.2" text-anchor="middle">c) For Density</text>
<text x="518" y="365.5" font-size="16.2" text-anchor="middle">d) For Slump</text>
</svg>
</body></html>
